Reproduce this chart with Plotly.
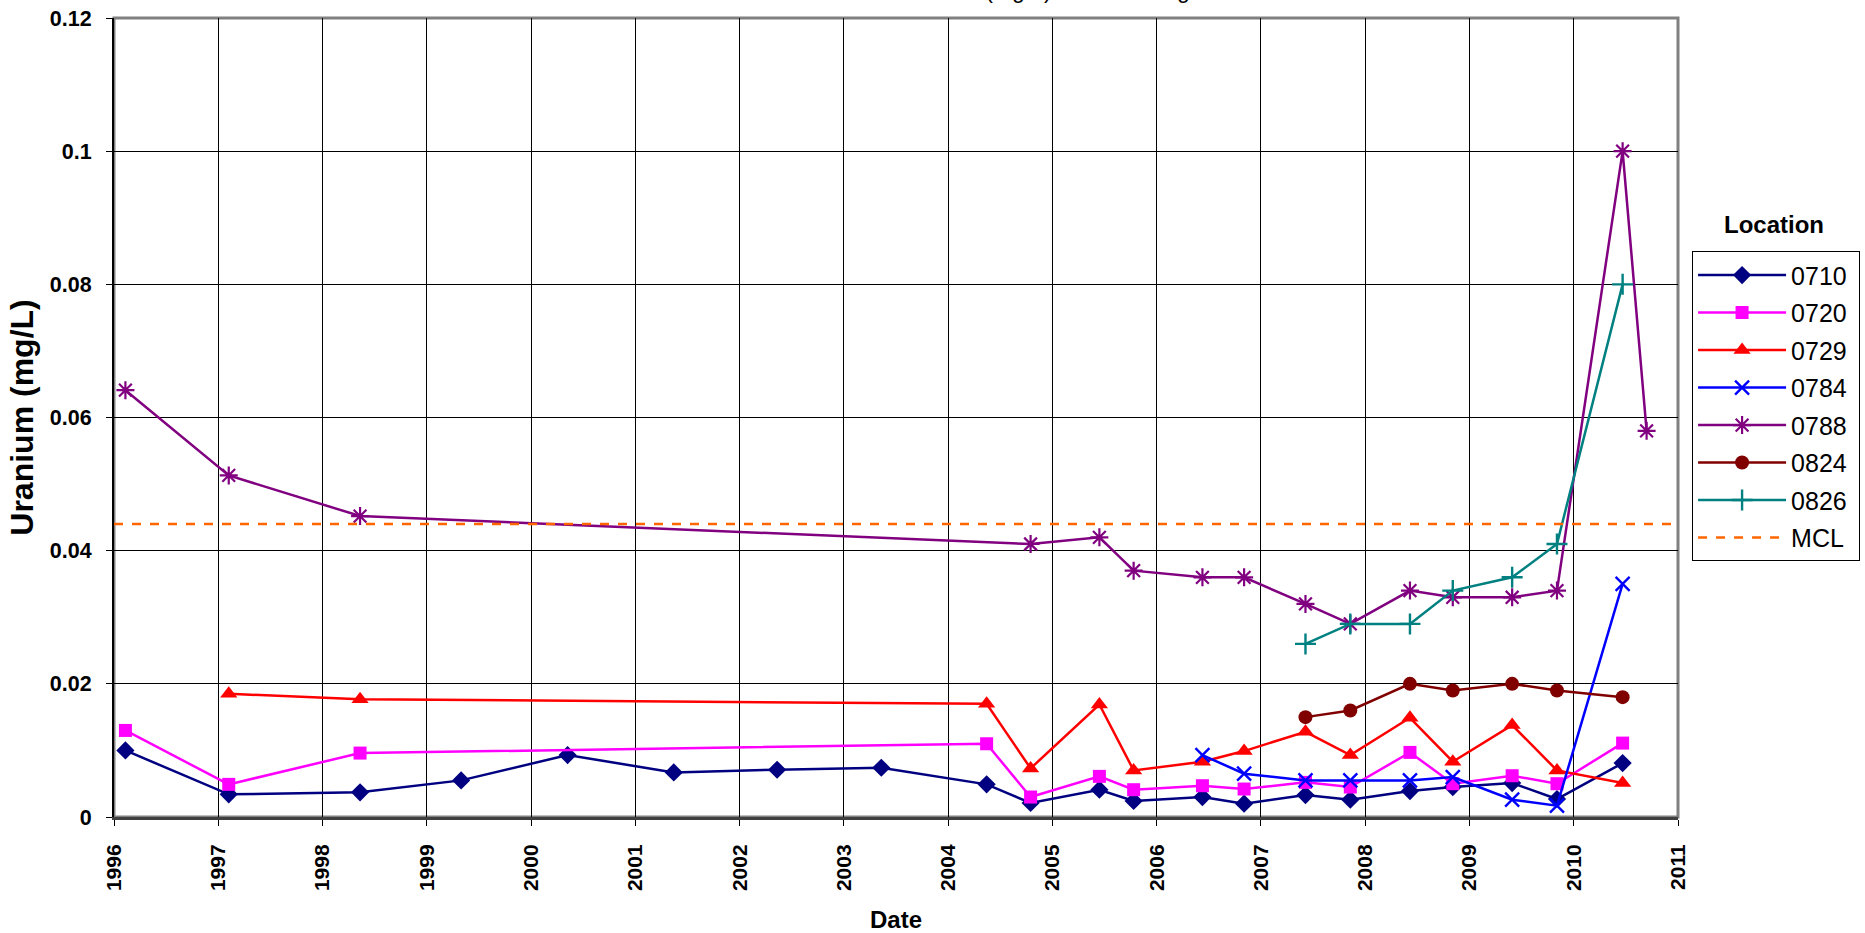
import plotly.graph_objects as go

# ---- data ----
dates_0710 = ["1996-02-10", "1997-02-06", "1998-05-12", "1999-05-01", "2000-05-08", "2001-05-15",
              "2002-05-12", "2003-05-12", "2004-05-15", "2004-10-16", "2005-06-14", "2005-10-12",
              "2006-06-10", "2006-11-03", "2007-06-06", "2007-11-10", "2008-06-06", "2008-11-03",
              "2009-05-30", "2009-11-03", "2010-06-21"]
vals_0710 = [0.0100, 0.0034, 0.0037, 0.0055, 0.0093, 0.0067, 0.0071, 0.0074, 0.0049, 0.0021,
             0.0041, 0.0024, 0.0030, 0.0020, 0.0033, 0.0026, 0.0039, 0.0045, 0.0051, 0.0027, 0.0081]

dates_0720 = ["1996-02-10", "1997-02-06", "1998-05-12", "2004-05-15", "2004-10-16", "2005-06-14",
              "2005-10-12", "2006-06-10", "2006-11-03", "2007-06-06", "2007-11-10", "2008-06-06",
              "2008-11-03", "2009-05-30", "2009-11-03", "2010-06-21"]
vals_0720 = [0.0130, 0.0049, 0.0096, 0.0110, 0.0030, 0.0061, 0.0041, 0.0047, 0.0042, 0.0052,
             0.0045, 0.0097, 0.0050, 0.0062, 0.0050, 0.0111]

dates_0729 = ["1997-02-06", "1998-05-12", "2004-05-15", "2004-10-16", "2005-06-14", "2005-10-12",
              "2006-06-10", "2006-11-03", "2007-06-06", "2007-11-10", "2008-06-06", "2008-11-03",
              "2009-05-30", "2009-11-03", "2010-06-21"]
vals_0729 = [0.0185, 0.0177, 0.0170, 0.0073, 0.0169, 0.0070, 0.0083, 0.0099, 0.0128, 0.0093,
             0.0149, 0.0083, 0.0138, 0.0070, 0.0051]

dates_0784 = ["2006-06-10", "2006-11-03", "2007-06-06", "2007-11-10", "2008-06-06", "2008-11-03",
              "2009-05-30", "2009-11-03", "2010-06-21"]
vals_0784 = [0.0093, 0.0065, 0.0055, 0.0055, 0.0055, 0.0060, 0.0026, 0.0017, 0.0350]

dates_0788 = ["1996-02-10", "1997-02-06", "1998-05-12", "2004-10-16", "2005-06-14", "2005-10-12",
              "2006-06-10", "2006-11-03", "2007-06-06", "2007-11-10", "2008-06-06", "2008-11-03",
              "2009-05-30", "2009-11-03", "2010-06-21", "2010-09-13"]
vals_0788 = [0.0641, 0.0513, 0.0452, 0.0410, 0.0420, 0.0370, 0.0360, 0.0360, 0.0320, 0.0290,
             0.0340, 0.0330, 0.0330, 0.0340, 0.1000, 0.0580]

dates_0824 = ["2007-06-06", "2007-11-10", "2008-06-06", "2008-11-03", "2009-05-30", "2009-11-03",
              "2010-06-21"]
vals_0824 = [0.0150, 0.0160, 0.0200, 0.0190, 0.0200, 0.0190, 0.0180]

dates_0826 = ["2007-06-06", "2007-11-10", "2008-06-06", "2008-11-03", "2009-05-30", "2009-11-03",
              "2010-06-21"]
vals_0826 = [0.0260, 0.0290, 0.0290, 0.0340, 0.0360, 0.0410, 0.0800]

mcl_dates = ["1996-01-01", "2011-01-01"]
mcl_vals = [0.044, 0.044]

x_range = ["1996-01-01", "2011-01-01"]
y_range = [0, 0.12]

FONT = "Liberation Sans, Arial, sans-serif"

fig = go.Figure()

series = [
    ("0710", dates_0710, vals_0710, "#000080", "diamond", 14, None),
    ("0720", dates_0720, vals_0720, "#FF00FF", "square", 13, None),
    ("0729", dates_0729, vals_0729, "#FF0000", "triangle-up", 15, None),
    ("0784", dates_0784, vals_0784, "#0000FF", "x-thin-open", 14, 2.4),
    ("0788", dates_0788, vals_0788, "#800080", "asterisk-open", 15, 2.2),
    ("0824", dates_0824, vals_0824, "#800000", "circle", 14, None),
    ("0826", dates_0826, vals_0826, "#008080", "cross-thin-open", 15, 2.4),
]

for i, (name, xs, ys, col, sym, sz, lw) in enumerate(series):
    marker = dict(symbol=sym, size=sz, color=col)
    if lw is not None:
        marker["line"] = dict(color=col, width=lw)
    else:
        marker["line"] = dict(width=0)
    fig.add_trace(go.Scatter(x=xs, y=ys, name=name + "\u00a0", mode="lines+markers",
                             line=dict(color=col, width=2.5), marker=marker,
                             legendgroup="g%d" % i))

fig.add_trace(go.Scatter(x=mcl_dates, y=mcl_vals, name="MCL\u00a0", mode="lines",
                         line=dict(color="#FF6600", width=2.5, dash="dash"),
                         legendgroup="g7"))

fig.update_layout(
    width=1865, height=933,
    margin=dict(l=114, r=187, t=18, b=116, autoexpand=False),
    paper_bgcolor="white", plot_bgcolor="white",
    font=dict(family=FONT, color="black"),
    showlegend=True,
    legend=dict(
        x=1.009, y=0.7080, xanchor="left", yanchor="top",
        bordercolor="black", borderwidth=1, bgcolor="white",
        font=dict(family=FONT, size=25, color="black"),
        traceorder="grouped", tracegroupgap=2, itemwidth=88,
    ),
    xaxis=dict(
        type="date", range=x_range, dtick="M12", tick0="1996-01-01", tickformat="%Y",
        tickangle=-90, ticks="outside", ticklen=6, tickcolor="black",
        ticklabelstandoff=10, automargin=False,
        tickfont=dict(family=FONT, size=21, color="black", weight="bold"),
        showgrid=True, gridcolor="black", gridwidth=1,
        showline=True, linecolor="#404040", linewidth=3,
        zeroline=False,
        title=dict(text="<b>Date</b>", font=dict(family=FONT, size=24), standoff=22),
    ),
    yaxis=dict(
        range=y_range, dtick=0.02, tick0=0,
        ticks="outside", ticklen=6, tickcolor="black",
        ticklabelstandoff=10, automargin=False,
        tickfont=dict(family=FONT, size=21.5, color="black", weight="bold"),
        showgrid=True, gridcolor="black", gridwidth=1,
        showline=True, linecolor="black", linewidth=2,
        zeroline=False,
        title=dict(text="<b>Uranium (mg/L)</b>", font=dict(family=FONT, size=32), standoff=7),
    ),
    shapes=[dict(type="rect", xref="paper", yref="paper", x0=0, x1=1, y0=0, y1=1,
                 line=dict(color="#808080", width=3), layer="below")],
    annotations=[
        dict(text="<b>Location</b>", xref="paper", yref="paper", x=1.0617, y=0.741,
             xanchor="center", yanchor="middle", showarrow=False,
             font=dict(family=FONT, size=24, color="black")),
        dict(text="Uranium (mg/L) in Monitoring Wells", xref="paper", yref="paper",
             x=0.496, y=1, xanchor="left", yanchor="middle", yshift=28, showarrow=False,
             font=dict(family=FONT, size=23, color="black")),
    ],
)

fig.write_html("out.html", config={"displayModeBar": False},
               post_script="document.body.style.margin='0px';")
